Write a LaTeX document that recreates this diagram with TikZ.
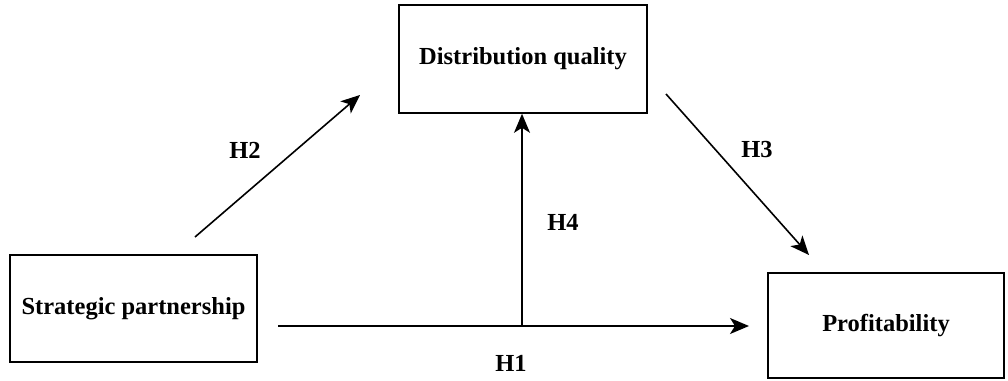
\documentclass[tikz,border=0pt]{standalone}
\usepackage{fontspec}
\setmainfont{Liberation Serif}
\usetikzlibrary{arrows.meta}
\begin{document}
\begin{tikzpicture}[x=1pt,y=-1pt,
  box/.style={draw=black,line width=1.6pt,inner sep=0pt,font=\fontsize{24.5}{28}\selectfont\bfseries},
  arr/.style={line width=1.6pt,-{Stealth[length=19pt,width=16pt,inset=5pt]}},
  lbl/.style={font=\fontsize{24.5}{28}\selectfont\bfseries,inner sep=0pt}]
\useasboundingbox (0,0) rectangle (1008,380);
\node[box,minimum width=248pt,minimum height=108pt] (dq) at (523,59) {Distribution quality};
\node[box,minimum width=247pt,minimum height=107pt] (sp) at (133.5,308.5) {Strategic partnership};
\node[box,minimum width=236pt,minimum height=105pt] (pr) at (886,325.5) {Profitability};
\coordinate (h2s) at (195,237);
\coordinate (h2e) at (360,95);
\coordinate (h3s) at (666,94);
\coordinate (h3e) at (809,255);
\coordinate (h1s) at (278,326);
\coordinate (h1e) at (749,326);
\coordinate (h4s) at (522,326);
\draw[arr] (h2s) -- (h2e);
\draw[arr] (h3s) -- (h3e);
\draw[arr] (h1s) -- (h1e);
\draw[arr] (h4s) -- (h4s |- dq.south);
\node[lbl] (l2) at (245,150) {H2};
\node[lbl] (l3) at (757,150) {H3};
\node[lbl] (l4) at (563,222) {H4};
\node[lbl] (l1) at (511,363) {H1};
\end{tikzpicture}
\end{document}
